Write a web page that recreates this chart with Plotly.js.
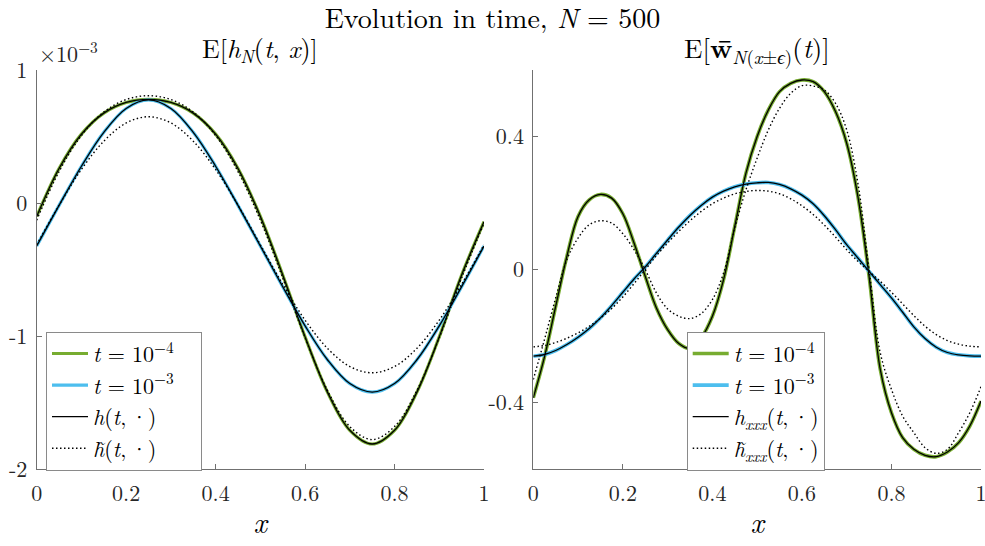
<!DOCTYPE html>
<html>
<head>
<meta charset="utf-8">
<script src="https://cdn.plot.ly/plotly-3.0.1.min.js"></script>
<style>html,body{margin:0;padding:0;background:#fff;}#chart{width:985px;height:546px;}</style>
</head>
<body>
<div id="chart"></div>
<script>
// ---------- Left panel: E[h_N(t,x)]  (values in units of 1e-3) ----------
const xLeft = [0,0.05,0.1,0.15,0.2,0.25,0.3,0.35,0.4,0.45,0.5,0.55,0.6,0.65,0.7,0.75,0.8,0.85,0.9,0.95,1];
const hN_t4 = [-0.10,0.26,0.518,0.676,0.756,0.78,0.756,0.676,0.518,0.26,-0.10,-0.54,-1.005,-1.42,-1.707,-1.81,-1.707,-1.42,-1.005,-0.54,-0.14];
const hN_t3 = [-0.3225,-0.017,0.277,0.532,0.711,0.775,0.711,0.532,0.277,-0.017,-0.3225,-0.628,-0.922,-1.177,-1.356,-1.42,-1.356,-1.177,-0.922,-0.628,-0.3225];
const h_t4 = hN_t4;
const h_t3 = hN_t3;
const hTilde_t4 = [-0.128,0.237,0.508,0.684,0.778,0.807,0.778,0.684,0.508,0.237,-0.128,-0.562,-1.011,-1.407,-1.679,-1.777,-1.679,-1.407,-1.011,-0.562,-0.15];
const hTilde_t3 = [-0.313,-0.016,0.253,0.465,0.602,0.649,0.602,0.465,0.253,-0.016,-0.313,-0.610,-0.879,-1.091,-1.228,-1.275,-1.228,-1.091,-0.879,-0.610,-0.313];

// ---------- Right panel: E[w_N(x±eps)(t)] ----------
const xRight = [0,0.025,0.05,0.075,0.1,0.125,0.15,0.175,0.2,0.225,0.25,0.275,0.3,0.325,0.35,0.375,0.4,0.425,0.45,0.475,0.5,0.525,0.55,0.575,0.6,0.625,0.65,0.675,0.7,0.725,0.75,0.775,0.8,0.825,0.85,0.875,0.9,0.925,0.95,0.975,1];
const wN_t4 = [-0.385,-0.262,-0.11,0.04,0.16,0.21,0.226,0.215,0.168,0.08,-0.02,-0.115,-0.18,-0.222,-0.237,-0.205,-0.14,-0.03,0.13,0.29,0.40,0.48,0.535,0.56,0.57,0.565,0.535,0.475,0.38,0.22,-0.02,-0.30,-0.43,-0.505,-0.54,-0.558,-0.562,-0.548,-0.52,-0.47,-0.395];
const wN_t3 = [-0.26,-0.255,-0.243,-0.225,-0.203,-0.177,-0.145,-0.108,-0.068,-0.028,0.008,0.049,0.089,0.128,0.163,0.193,0.218,0.236,0.249,0.257,0.261,0.262,0.256,0.243,0.224,0.198,0.162,0.12,0.075,0.035,-0.005,-0.045,-0.085,-0.128,-0.172,-0.207,-0.233,-0.249,-0.256,-0.259,-0.26];
const hxxx_t4 = wN_t4;
const hxxx_t3 = wN_t3;
const hxxxTilde_t4 = [-0.33,-0.21,-0.085,0.03,0.095,0.135,0.147,0.14,0.108,0.06,0.0,-0.07,-0.118,-0.14,-0.147,-0.132,-0.09,-0.01,0.125,0.24,0.335,0.42,0.485,0.53,0.553,0.552,0.54,0.50,0.42,0.26,0.0,-0.25,-0.36,-0.44,-0.49,-0.535,-0.552,-0.54,-0.49,-0.43,-0.352];
const hxxxTilde_t3 = [-0.232,-0.228,-0.219,-0.206,-0.19,-0.17,-0.146,-0.117,-0.082,-0.042,0.0,0.042,0.08,0.115,0.147,0.175,0.198,0.215,0.228,0.235,0.238,0.236,0.228,0.213,0.192,0.166,0.134,0.098,0.06,0.025,-0.005,-0.035,-0.068,-0.103,-0.138,-0.17,-0.195,-0.213,-0.224,-0.23,-0.232];

// ---------- Tick labels ----------
const xTicks = [0,0.2,0.4,0.6,0.8,1];
const xTickText = ['0','0.2','0.4','0.6','0.8','1'];
const yLeftTicks = [-2,-1,0,1];
const yLeftTickText = ['-2','-1','0','1'];
const yRightTicks = [-0.4,0,0.4];
const yRightTickText = ['-0.4','0','0.4'];

const GREEN = '#77AC30', BLUE = '#4DBEEE';
const FONT = 'Latin Modern Roman';
const DOT = '1.5px,2.5px';
const TS = '\u2009';   // thin space
const NB = '\u00a0';   // non-breaking space (legend padding)

function tr(x, y, name, color, width, dash, xa, ya, lg, show) {
  return {x: x, y: y, name: name, type: 'scatter', mode: 'lines',
    line: {color: color, width: width, dash: dash || 'solid', shape: 'spline', smoothing: 1},
    xaxis: xa, yaxis: ya, legend: lg, showlegend: show, hoverinfo: 'skip'};
}

const data = [
  tr(xLeft, hN_t4, '<i>t</i> = 10<sup>−4</sup>' + NB + NB, GREEN, 3.2, null, 'x', 'y', 'legend', true),
  tr(xLeft, hN_t3, '<i>t</i> = 10<sup>−3</sup>', BLUE, 3.2, null, 'x', 'y', 'legend', true),
  tr(xLeft, h_t4, '<i>h</i>(<i>t</i>,' + TS + '·)', '#000', 1.3, null, 'x', 'y', 'legend', true),
  tr(xLeft, h_t3, 'h3', '#000', 1.3, null, 'x', 'y', 'legend', false),
  tr(xLeft, hTilde_t4, '<i>h̃</i>(<i>t</i>,' + TS + '·)', '#000', 1.4, DOT, 'x', 'y', 'legend', true),
  tr(xLeft, hTilde_t3, 'ht3', '#000', 1.4, DOT, 'x', 'y', 'legend', false),

  tr(xRight, wN_t4, '<i>t</i> = 10<sup>−4</sup>', GREEN, 3.6, null, 'x2', 'y2', 'legend2', true),
  tr(xRight, wN_t3, '<i>t</i> = 10<sup>−3</sup>', BLUE, 3.6, null, 'x2', 'y2', 'legend2', true),
  tr(xRight, hxxx_t4, '<i>h</i><sub><i>xxx</i></sub>(<i>t</i>,' + TS + '·)', '#000', 1.3, null, 'x2', 'y2', 'legend2', true),
  tr(xRight, hxxx_t3, 'hx3', '#000', 1.3, null, 'x2', 'y2', 'legend2', false),
  tr(xRight, hxxxTilde_t4, '<i>h̃</i><sub><i>xxx</i></sub>(<i>t</i>,' + TS + '·)', '#000', 1.4, DOT, 'x2', 'y2', 'legend2', true),
  tr(xRight, hxxxTilde_t3, 'hxt3', '#000', 1.4, DOT, 'x2', 'y2', 'legend2', false)
];

const AX = {showline: true, linecolor: '#707070', linewidth: 1, ticks: 'inside', ticklen: 5,
  tickcolor: '#707070', showgrid: false, zeroline: false, mirror: false, automargin: false,
  ticklabeloverflow: 'allow',
  tickfont: {family: FONT, size: 22, color: '#262626'}, fixedrange: true};

const yDom = [1 - 469.3/546, 1 - 70/546];
const legendBase = {xanchor: 'left', yanchor: 'top', y: 1 - 331.7/546, bordercolor: '#8a8a8a', borderwidth: 1,
  bgcolor: '#ffffff', font: {family: FONT, size: 22, color: '#000'}, itemwidth: 36, tracegroupgap: 0,
  traceorder: 'normal'};

const layout = {
  width: 985, height: 546, margin: {l: 0, r: 0, t: 0, b: 0, pad: 0},
  paper_bgcolor: '#fff', plot_bgcolor: '#fff',
  font: {family: FONT, color: '#000'},
  title: {text: 'Evolution in time, <i>N</i> = 500', x: 0.5, xanchor: 'center', y: 1 - 18/546, yanchor: 'middle',
    font: {family: FONT, size: 28, color: '#000'}},
  xaxis: Object.assign({}, AX, {domain: [36.7/985, 484/985], range: [0, 1], tickvals: xTicks, ticktext: xTickText,
    anchor: 'y', ticklabelstandoff: 4,
    title: {text: '<i>x</i>', font: {family: FONT, size: 29, color: '#000'}, standoff: 6}}),
  yaxis: Object.assign({}, AX, {domain: yDom, range: [-2, 1], tickvals: yLeftTicks, ticktext: yLeftTickText,
    anchor: 'x', ticklabelstandoff: 4}),
  xaxis2: Object.assign({}, AX, {domain: [533.3/985, 981/985], range: [0, 1], tickvals: xTicks, ticktext: xTickText,
    anchor: 'y2', ticklabelstandoff: 4,
    title: {text: '<i>x</i>', font: {family: FONT, size: 29, color: '#000'}, standoff: 6}}),
  yaxis2: Object.assign({}, AX, {domain: yDom, range: [-0.6, 0.6], tickvals: yRightTicks, ticktext: yRightTickText,
    anchor: 'x2', ticklabelstandoff: 4}),
  legend: Object.assign({}, legendBase, {x: 46/985}),
  legend2: Object.assign({}, legendBase, {x: 686.7/985}),
  annotations: [
    {text: 'E[<i>h</i><sub><i>N</i></sub>(<i>t</i>, <i>x</i>)]', xref: 'paper', yref: 'paper',
     x: (36.7 + 484) / 2 / 985, y: 1 - 48/546, xanchor: 'center', yanchor: 'middle', showarrow: false,
     font: {family: FONT, size: 26, color: '#000'}},
    {text: 'E[<b>w̄</b><sub><i>N</i>(<i>x</i>±<i>ϵ</i>)</sub>(<i>t</i>)]', xref: 'paper', yref: 'paper',
     x: (533.3 + 981) / 2 / 985, y: 1 - 48/546, xanchor: 'center', yanchor: 'middle', showarrow: false,
     font: {family: FONT, size: 27, color: '#000'}},
    {text: '×10<sup>−3</sup>', xref: 'paper', yref: 'paper', x: 37/985, y: 1 - 52/546,
     xanchor: 'left', yanchor: 'middle', showarrow: false, font: {family: FONT, size: 22, color: '#262626'}}
  ]
};

Plotly.newPlot('chart', data, layout, {displayModeBar: false, staticPlot: true});
</script>
</body>
</html>
